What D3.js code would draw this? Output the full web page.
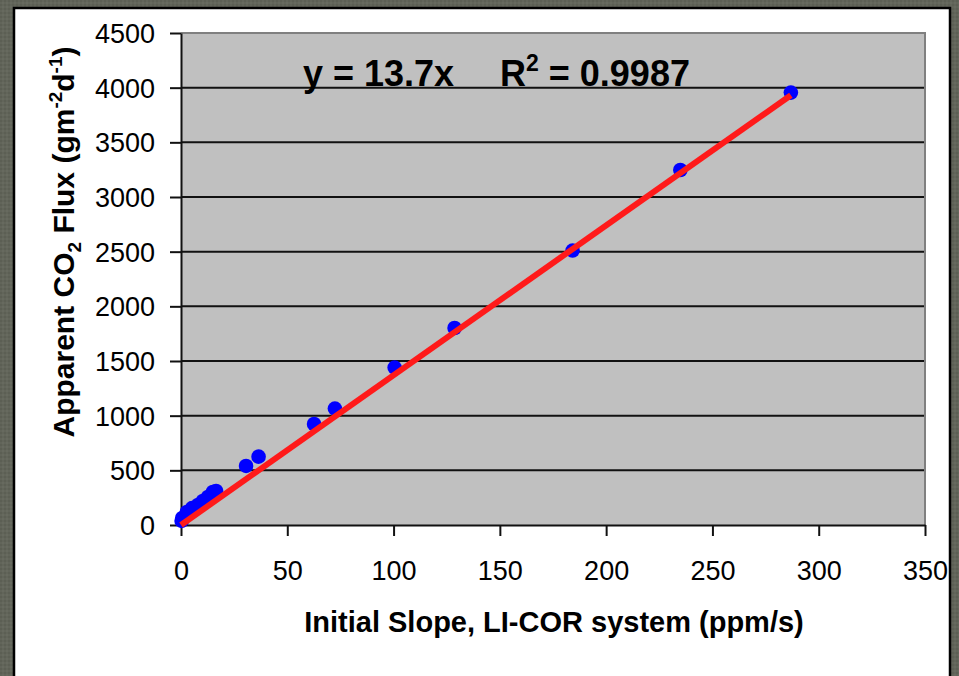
<!DOCTYPE html>
<html>
<head>
<meta charset="utf-8">
<script src="https://cdn.jsdelivr.net/npm/d3@7"></script>
<style>
  html, body { margin: 0; padding: 0; background: #62655a; }
  svg { display: block; }
  text { font-family: "Liberation Sans", Arial, sans-serif; }
</style>
</head>
<body>
<svg id="chart" width="959" height="676"></svg>
<script>
// ---- data ----
const slopeX = [0.3, 0.6, 2.8, 5.2, 8, 10.3, 12.7, 15, 16.5, 30.6, 36.5, 62.6, 72.4, 100.5, 128.7, 184.2, 234.9, 286.9];
const fluxY  = [37, 64, 119, 155, 183, 220, 256, 302, 311, 540, 625, 924, 1065, 1440, 1802, 2510, 3247, 3955];
const xTicks = [0, 50, 100, 150, 200, 250, 300, 350];
const yTicks = [0, 500, 1000, 1500, 2000, 2500, 3000, 3500, 4000, 4500];
const fitSlope = 13.7;
const fitRange = [0, 286.9];
const xTitle = "Initial Slope, LI-COR system (ppm/s)";

const svg = d3.select("#chart");

// outer frame texture
const defs = svg.append("defs");
const pat = defs.append("pattern").attr("id", "tex").attr("width", 4).attr("height", 4)
  .attr("patternUnits", "userSpaceOnUse");
pat.append("rect").attr("width", 4).attr("height", 4).attr("fill", "#62655a");
pat.append("rect").attr("x", 0).attr("y", 0).attr("width", 2).attr("height", 2).attr("fill", "#5c5f54");
pat.append("rect").attr("x", 2).attr("y", 2).attr("width", 2).attr("height", 2).attr("fill", "#676a5f");
svg.append("rect").attr("width", 959).attr("height", 676).attr("fill", "url(#tex)");

// white panel with black border
svg.append("rect").attr("x", 14).attr("y", 8).attr("width", 936).attr("height", 700)
  .attr("fill", "#ffffff").attr("stroke", "#000").attr("stroke-width", 2.5);

// plot area
const L = 181, R = 925, T = 33, B = 525;
const x = d3.scaleLinear().domain([0, 350]).range([L, R]);
const y = d3.scaleLinear().domain([0, 4500]).range([B, T]);

svg.append("rect").attr("x", L).attr("y", T).attr("width", R - L).attr("height", B - T)
  .attr("fill", "#c0c0c0");

// gridlines
svg.append("g").selectAll("line").data(yTicks.filter(d => d > 0 && d < 4500)).join("line")
  .attr("x1", L).attr("x2", R).attr("y1", d => y(d)).attr("y2", d => y(d))
  .attr("stroke", "#111").attr("stroke-width", 2);

// top and right border (grey)
svg.append("path").attr("d", `M${L},${T}H${R}V${B}`).attr("fill", "none")
  .attr("stroke", "#808080").attr("stroke-width", 2);

// axes
const yAxis = d3.axisLeft(y).tickValues(yTicks).tickFormat(d3.format("d"))
  .tickSize(11).tickSizeOuter(0).tickPadding(15);
const gy = svg.append("g").attr("transform", `translate(${L},0)`).call(yAxis);
const xAxis = d3.axisBottom(x).tickValues(xTicks).tickFormat(d3.format("d"))
  .tickSize(11).tickSizeOuter(0).tickPadding(25);
const gx = svg.append("g").attr("transform", `translate(0,${B})`).call(xAxis);

[gx, gy].forEach(g => {
  g.select(".domain").attr("stroke", "#111").attr("stroke-width", 2);
  g.selectAll(".tick line").attr("stroke", "#111").attr("stroke-width", 2);
  g.selectAll(".tick text").attr("fill", "#000")
    .style("font-family", "'Liberation Sans', Arial, sans-serif").style("font-size", "27px");
});
gy.selectAll(".tick text").attr("dy", "0.35em");

// data points
svg.append("g").selectAll("circle").data(slopeX.map((d, i) => [d, fluxY[i]])).join("circle")
  .attr("cx", d => x(d[0])).attr("cy", d => y(d[1])).attr("r", 7.3)
  .attr("fill", "#0000ff");

// fit line
svg.append("line")
  .attr("x1", x(fitRange[0])).attr("y1", y(fitRange[0] * fitSlope))
  .attr("x2", x(fitRange[1])).attr("y2", y(fitRange[1] * fitSlope))
  .attr("stroke", "#ff1a1a").attr("stroke-width", 6);

// equation annotation
const eq = svg.append("text").attr("y", 86).style("font-weight", "bold").style("font-size", "36px")
  .attr("fill", "#000");
eq.append("tspan").attr("x", 303).text("y = 13.7x");
eq.append("tspan").attr("x", 500).text("R");
eq.append("tspan").attr("dy", -15).style("font-size", "23px").text("2");
eq.append("tspan").attr("dy", 15).text(" = 0.9987");

// x title
svg.append("text").attr("x", 554).attr("y", 632).attr("text-anchor", "middle")
  .style("font-weight", "bold").style("font-size", "29px").attr("fill", "#000").text(xTitle);

// y title (rotated)
const yt = svg.append("text").attr("transform", "translate(74,242) rotate(-90)")
  .attr("text-anchor", "middle").style("font-weight", "bold").style("font-size", "30px").attr("fill", "#000");
yt.append("tspan").text("Apparent CO");
yt.append("tspan").attr("dy", 7).style("font-size", "19px").text("2");
yt.append("tspan").attr("dy", -7).text(" Flux (gm");
yt.append("tspan").attr("dy", -12).style("font-size", "19px").text("-2");
yt.append("tspan").attr("dy", 12).text("d");
yt.append("tspan").attr("dy", -12).style("font-size", "19px").text("-1");
yt.append("tspan").attr("dy", 12).text(")");
</script>
</body>
</html>
